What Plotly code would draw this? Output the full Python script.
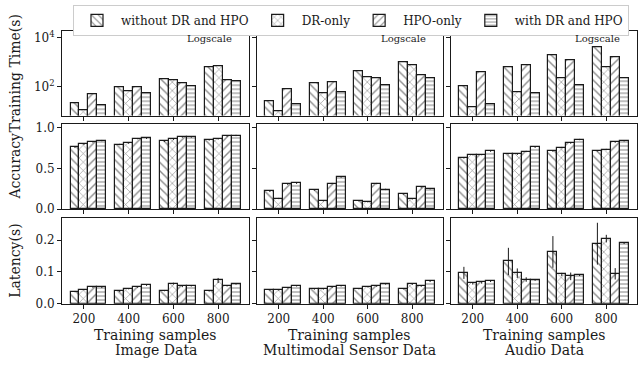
import plotly.graph_objects as go

samples = [200, 400, 600, 800]
methods = ["without DR and HPO", "DR-only", "HPO-only", "with DR and HPO"]
datasets = ["Image Data", "Multimodal Sensor Data", "Audio Data"]

# Training time (s), rows = methods
time_image = [[21, 102, 212, 616], [11, 65, 195, 676], [53, 96, 144, 190], [19, 55, 112, 173]]
time_sensor = [[26, 139, 453, 1030], [10.5, 56, 249, 741], [78, 152, 228, 306], [20, 59, 123, 228]]
time_audio = [[110, 633, 1940, 4260], [15, 61, 233, 650], [380, 760, 1200, 1580], [20, 58, 123, 220]]

# Accuracy
acc_image = [[0.761, 0.797, 0.837, 0.853], [0.800, 0.813, 0.861, 0.865],
             [0.829, 0.869, 0.888, 0.900], [0.845, 0.873, 0.888, 0.908]]
acc_sensor = [[0.220, 0.236, 0.104, 0.188], [0.132, 0.104, 0.092, 0.128],
              [0.308, 0.316, 0.316, 0.272], [0.320, 0.396, 0.244, 0.252]]
acc_audio = [[0.632, 0.684, 0.715, 0.719], [0.672, 0.676, 0.759, 0.735],
             [0.672, 0.711, 0.814, 0.826], [0.715, 0.763, 0.858, 0.842]]
acc_err = [[0.008, 0.008, 0.008, 0.008], [0.008, 0.008, 0.008, 0.008],
           [0.008, 0.008, 0.008, 0.008], [0.008, 0.008, 0.008, 0.008]]

# Latency (s)
lat_image = [[0.038, 0.039, 0.041, 0.040], [0.044, 0.047, 0.063, 0.073],
             [0.052, 0.052, 0.054, 0.056], [0.051, 0.058, 0.056, 0.062]]
lat_sensor = [[0.043, 0.046, 0.047, 0.047], [0.043, 0.046, 0.053, 0.061],
              [0.050, 0.052, 0.055, 0.055], [0.056, 0.056, 0.062, 0.070]]
lat_audio = [[0.097, 0.133, 0.163, 0.189], [0.064, 0.096, 0.092, 0.205],
             [0.067, 0.076, 0.086, 0.094], [0.070, 0.074, 0.090, 0.191]]
lat_image_err = [[0.002, 0.002, 0.002, 0.002], [0.002, 0.002, 0.003, 0.008],
                 [0.002, 0.002, 0.002, 0.002], [0.002, 0.002, 0.002, 0.002]]
lat_sensor_err = [[0.002, 0.002, 0.002, 0.002], [0.002, 0.002, 0.002, 0.002],
                  [0.002, 0.002, 0.002, 0.002], [0.002, 0.002, 0.002, 0.002]]
lat_audio_err = [[0.019, 0.043, 0.050, 0.066], [0.004, 0.015, 0.005, 0.012],
                 [0.004, 0.007, 0.012, 0.018], [0.002, 0.002, 0.003, 0.003]]

patterns = ["\\", "x", "/", "-"]
pattern_sizes = [6, 6, 6, 4]
pattern_solid = [0.24, 0.2, 0.24, 0.28]

FONT = "DejaVu Serif"
INK = "#1a1a1a"
W, H = 642, 369
col_px = [(62, 249), (257, 443), (451, 637)]
row_px = [(29, 115.7), (124.3, 212), (221, 309)]

time_data = [time_image, time_sensor, time_audio]
acc_data = [acc_image, acc_sensor, acc_audio]
lat_data = [lat_image, lat_sensor, lat_audio]
lat_errs = [lat_image_err, lat_sensor_err, lat_audio_err]

fig = go.Figure()
layout = {}

def add_bars(row, col, data, err, showlegend):
    k = row * 3 + col + 1
    xa = "x" if k == 1 else f"x{k}"
    ya = "y" if k == 1 else f"y{k}"
    for i, m in enumerate(methods):
        ed = None
        if err is not None:
            ed = dict(type="data", array=err[i], visible=True, color=INK,
                      thickness=1, width=0)
        fig.add_trace(go.Bar(
            x=samples, y=data[i], xaxis=xa, yaxis=ya, name=m,
            width=40, offset=-60 + 40 * i,
            marker=dict(color="white",
                        line=dict(color=INK, width=1.2),
                        pattern=dict(shape=patterns[i], size=pattern_sizes[i],
                                     solidity=pattern_solid[i], fgcolor=INK,
                                     bgcolor="white", fillmode="overlay")),
            error_y=ed, showlegend=showlegend, legendgroup=m,
        ))

for c in range(3):
    add_bars(0, c, time_data[c], None, c == 0)
    add_bars(1, c, acc_data[c], acc_err, False)
    add_bars(2, c, lat_data[c], lat_errs[c], False)

axis_common = dict(showline=True, linecolor=INK, linewidth=1, mirror=True,
                   ticks="outside", ticklen=4, tickwidth=1, tickcolor=INK,
                   showgrid=False, zeroline=False,
                   tickfont=dict(family=FONT, size=12, color=INK))

for r in range(3):
    for c in range(3):
        k = r * 3 + c + 1
        xkey = "xaxis" if k == 1 else f"xaxis{k}"
        ykey = "yaxis" if k == 1 else f"yaxis{k}"
        x0, x1 = col_px[c]
        y0, y1 = row_px[r]
        xa = dict(axis_common)
        xa.update(domain=[x0 / W, x1 / W], range=[102, 938],
                  tickvals=samples, showticklabels=(r == 2),
                  anchor="y" if k == 1 else f"y{k}")
        ya = dict(axis_common)
        ya.update(domain=[1 - y1 / H, 1 - y0 / H],
                  anchor="x" if k == 1 else f"x{k}",
                  showticklabels=(c == 0))
        if r == 0:
            ya.update(type="log", range=[0.84, 4.26], tickvals=[100, 10000],
                      ticktext=["10<sup>2</sup>", "10<sup>4</sup>"])
        elif r == 1:
            ya.update(range=[0, 1.05], tickvals=[0, 0.5, 1.0],
                      ticktext=["0.0", "0.5", "1.0"])
        else:
            ya.update(range=[0, 0.27], tickvals=[0, 0.1, 0.2],
                      ticktext=["0.0", "0.1", "0.2"])
        layout[xkey] = xa
        layout[ykey] = ya

annotations = []
ytitles = ["Training Time(s)", "Accuracy", "Latency(s)"]
for r, t in enumerate(ytitles):
    yc = (row_px[r][0] + row_px[r][1]) / 2
    annotations.append(dict(text=t, xref="paper", yref="paper", x=15 / W, y=1 - yc / H,
                            textangle=-90, showarrow=False, xanchor="center", yanchor="middle",
                            font=dict(family=FONT, size=14, color=INK)))
for c, d in enumerate(datasets):
    xc = (col_px[c][0] + col_px[c][1]) / 2
    annotations.append(dict(text="Training samples", xref="paper", yref="paper", x=xc / W,
                            y=1 - 341 / H, showarrow=False, xanchor="center", yanchor="middle",
                            font=dict(family=FONT, size=14, color=INK)))
    annotations.append(dict(text=d, xref="paper", yref="paper", x=xc / W,
                            y=1 - 357 / H, showarrow=False, xanchor="center", yanchor="middle",
                            font=dict(family=FONT, size=14, color=INK)))
    annotations.append(dict(text="Logscale", xref="paper", yref="paper",
                            x=(col_px[c][1] - 15) / W, y=1 - 37 / H, showarrow=False,
                            xanchor="right", yanchor="middle",
                            font=dict(family=FONT, size=10, color=INK)))

fig.update_layout(
    width=W, height=H, margin=dict(l=0, r=0, t=0, b=0),
    paper_bgcolor="white", plot_bgcolor="white",
    barmode="overlay", bargap=0,
    font=dict(family=FONT, size=12, color=INK),
    legend=dict(orientation="h", x=73 / W, y=1 - 2 / H, xanchor="left", yanchor="top",
                bordercolor="#cccccc", borderwidth=1, bgcolor="white",
                font=dict(family=FONT, size=12, color=INK), itemwidth=38),
    annotations=annotations,
    **layout,
)

fig.write_html("out.html")
